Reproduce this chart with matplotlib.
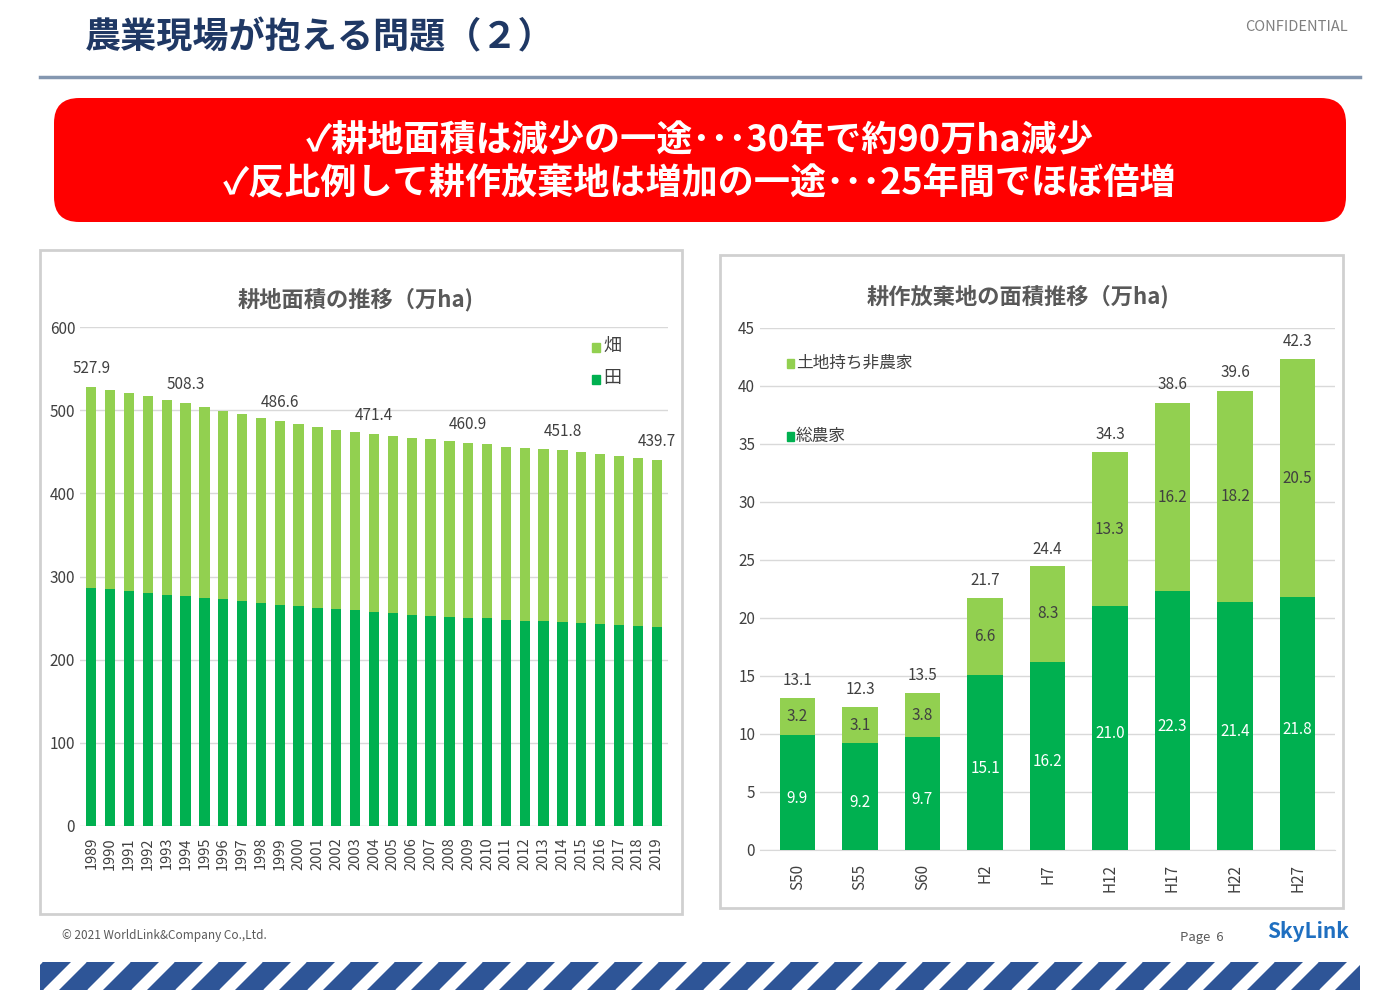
import matplotlib.pyplot as plt
import matplotlib.patches as mpatches
import numpy as np

plt.rcParams['font.family'] = ['Noto Sans CJK JP', 'DejaVu Sans']

# 耕地面積 (万ha)
years = [str(y) for y in range(1989, 2020)]
total_area = [527.9, 524.3, 520.4, 516.5, 512.4, 508.3, 503.8, 499.4, 494.9, 490.5,
              486.6, 483.0, 479.4, 476.2, 473.6, 471.4, 469.2, 467.1, 465.0, 462.8,
              460.9, 459.3, 456.1, 454.9, 453.7, 451.8, 449.6, 447.1, 444.4, 442.0, 439.7]
paddy = [285.6, 284.6, 282.5, 280.2, 278.2, 276.4, 274.5, 272.4, 270.1, 268.0,
         266.1, 264.1, 262.4, 260.8, 259.2, 257.8, 255.6, 254.3, 253.0, 251.6,
         250.6, 249.6, 247.4, 246.9, 246.5, 245.8, 244.6, 243.2, 241.8, 240.5, 239.7]
label_years = ['1989', '1994', '1999', '2004', '2009', '2014', '2019']

# 耕作放棄地 (万ha)
periods = ['S50', 'S55', 'S60', 'H2', 'H7', 'H12', 'H17', 'H22', 'H27']
farmers = [9.9, 9.2, 9.7, 15.1, 16.2, 21.0, 22.3, 21.4, 21.8]
non_farm = [3.2, 3.1, 3.8, 6.6, 8.3, 13.3, 16.2, 18.2, 20.5]
totals = [13.1, 12.3, 13.5, 21.7, 24.4, 34.3, 38.6, 39.6, 42.3]

DARK = '#00B050'
LIGHT = '#92D050'
W, H = 1400, 990

fig = plt.figure(figsize=(14, 9.9), dpi=100)


def fx(x):
    return x / W


def fy(y):
    return 1 - y / H


# header
fig.text(fx(85), fy(38), '農業現場が抱える問題（２）', fontsize=26, fontweight='bold',
         color='#1F3864', va='center')
fig.text(fx(1348), fy(27), 'CONFIDENTIAL', fontsize=10.5, color='#7F7F7F', ha='right', va='center')
fig.add_artist(plt.Line2D([fx(40), fx(1360)], [fy(77), fy(77)], color='#8497B0', lw=2.5))

# red banner
banner = mpatches.FancyBboxPatch((fx(54), fy(222)), fx(1292), (222 - 98) / H,
                                 boxstyle='round,pad=0,rounding_size=0.018',
                                 transform=fig.transFigure, facecolor='#FF0000',
                                 edgecolor='none', mutation_aspect=1.4)
fig.add_artist(banner)
fig.text(0.5, fy(140), '✓耕地面積は減少の一途･･･30年で約90万ha減少', fontsize=26,
         fontweight='bold', color='white', ha='center', va='center')
fig.text(0.5, fy(183), '✓反比例して耕作放棄地は増加の一途･･･25年間でほぼ倍増', fontsize=26,
         fontweight='bold', color='white', ha='center', va='center')

# panels (behind the axes)
for x0, y0, x1, y1 in [(40, 250, 682, 914), (720, 255, 1343, 908)]:
    fig.add_artist(mpatches.Rectangle((fx(x0), fy(y1)), fx(x1 - x0), (y1 - y0) / H,
                                      transform=fig.transFigure, facecolor='white',
                                      edgecolor='#D0D0D0', lw=2, zorder=-5))

# left chart
ax1 = fig.add_axes([fx(80), fy(826), fx(588), (826 - 327) / H])
ax1.patch.set_alpha(0)
x = np.arange(len(years))
upland = [t - p for t, p in zip(total_area, paddy)]
ax1.bar(x, paddy, width=0.55, color=DARK, zorder=3)
ax1.bar(x, upland, bottom=paddy, width=0.55, color=LIGHT, zorder=3)
for i, y in enumerate(years):
    if y in label_years:
        ax1.text(i, total_area[i] + 12, f'{total_area[i]:.1f}', ha='center', va='bottom',
                 fontsize=11, color='#404040')
ax1.set_ylim(0, 600)
ax1.set_xlim(-0.6, len(years) - 0.4)
ax1.set_yticks(range(0, 601, 100))
ax1.set_xticks(x)
ax1.set_xticklabels(years, rotation=90, fontsize=10.5, color='#404040')
ax1.tick_params(axis='y', labelsize=11, colors='#404040', length=0)
ax1.tick_params(axis='x', length=0, pad=8)
ax1.grid(axis='y', color='#D9D9D9', lw=1, zorder=0)
for s in ax1.spines.values():
    s.set_visible(False)
fig.text(fx(356), fy(300), '耕地面積の推移（万ha)', fontsize=16, fontweight='bold',
         color='#595959', ha='center', va='center')
fig.add_artist(mpatches.Rectangle((fx(592), fy(352)), fx(8), 9 / H, transform=fig.transFigure, color=LIGHT))
fig.text(fx(603), fy(346), '畑', fontsize=13, color='#404040', va='center')
fig.add_artist(mpatches.Rectangle((fx(592), fy(384)), fx(8), 9 / H, transform=fig.transFigure, color=DARK))
fig.text(fx(603), fy(378), '田', fontsize=13, color='#404040', va='center')

# right chart
ax2 = fig.add_axes([fx(760), fy(850), fx(575), (850 - 328) / H])
ax2.patch.set_alpha(0)
x2 = np.arange(len(periods))
ax2.bar(x2, farmers, width=0.57, color=DARK, zorder=3)
ax2.bar(x2, non_farm, bottom=farmers, width=0.57, color=LIGHT, zorder=3)
for i in range(len(periods)):
    ax2.text(i, farmers[i] / 2 - 0.5, f'{farmers[i]:.1f}', ha='center', va='center',
             fontsize=11, color='white')
    ax2.text(i, farmers[i] + non_farm[i] / 2, f'{non_farm[i]:.1f}', ha='center', va='center',
             fontsize=11, color='#404040')
    ax2.text(i, totals[i] + 0.8, f'{totals[i]:.1f}', ha='center', va='bottom',
             fontsize=11, color='#404040')
ax2.set_ylim(0, 45)
ax2.set_xlim(-0.6, len(periods) - 0.4)
ax2.set_yticks(range(0, 46, 5))
ax2.set_xticks(x2)
ax2.set_xticklabels(periods, rotation=90, fontsize=11, color='#404040')
ax2.tick_params(axis='y', labelsize=11, colors='#404040', length=0)
ax2.tick_params(axis='x', length=0, pad=10)
ax2.grid(axis='y', color='#D9D9D9', lw=1, zorder=0)
for s in ax2.spines.values():
    s.set_visible(False)
ax2.spines['bottom'].set_visible(True)
ax2.spines['bottom'].set_color('#D9D9D9')
fig.text(fx(1018), fy(297), '耕作放棄地の面積推移（万ha)', fontsize=16, fontweight='bold',
         color='#595959', ha='center', va='center')
fig.add_artist(mpatches.Rectangle((fx(787), fy(368)), fx(7), 9 / H, transform=fig.transFigure, color=LIGHT))
fig.text(fx(796), fy(363), '土地持ち非農家', fontsize=12, color='#404040', va='center')
fig.add_artist(mpatches.Rectangle((fx(787), fy(441)), fx(7), 9 / H, transform=fig.transFigure, color=DARK))
fig.text(fx(796), fy(436), '総農家', fontsize=12, color='#404040', va='center')

# footer
fig.text(fx(62), fy(936), '© 2021 WorldLink&Company Co.,Ltd.', fontsize=8.5, color='#595959', va='center')
fig.text(fx(1180), fy(937), 'Page  6', fontsize=9.5, color='#595959', va='center')
fig.text(fx(1308), fy(931), 'SkyLink', fontsize=15, fontweight='bold', fontstyle='italic',
         color='#1F6FC0', ha='center', va='center')

# striped band
band = fig.add_axes([fx(40), 0, fx(1320), 28 / H])
band.set_xlim(0, 1320)
band.set_ylim(0, 28)
band.axis('off')
band.add_patch(mpatches.Rectangle((0, 0), 1320, 28, color='#2E5597'))
for s in range(-40, 1360, 44):
    band.add_patch(mpatches.Polygon([(s, 0), (s + 14, 0), (s + 42, 28), (s + 28, 28)],
                                    closed=True, color='white'))

fig.savefig('out.png', dpi=100)
